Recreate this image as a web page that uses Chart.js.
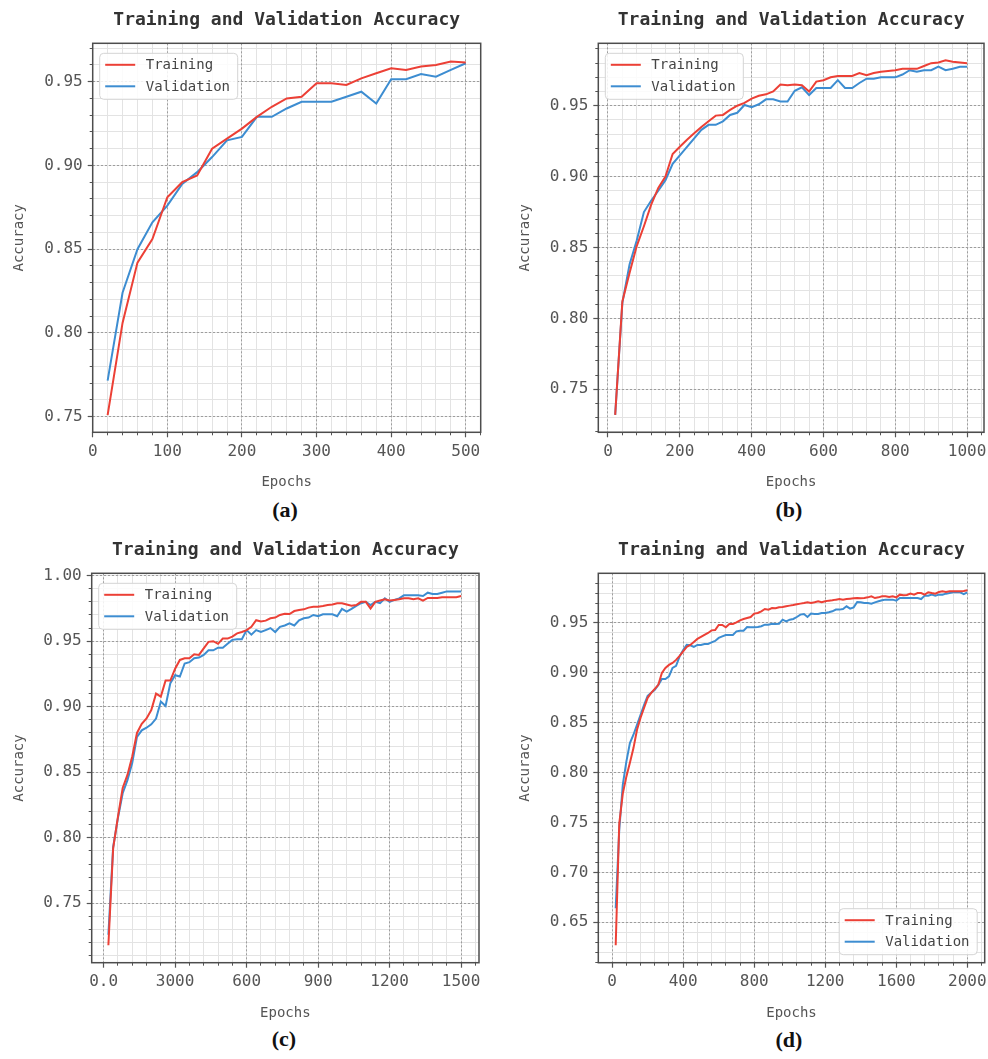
<!DOCTYPE html>
<html>
<head>
<meta charset="utf-8">
<script src="https://cdn.jsdelivr.net/npm/chart.js@4.4.1/dist/chart.umd.min.js"></script>
<style>
body { margin: 0; background: #fff; }
#fig { position: relative; width: 988px; height: 1059px; }
canvas { position: absolute; }
.tag { position: absolute; width: 80px; text-align: center; font: bold 22px "Liberation Serif", serif; color: #111; line-height: 26px; }
</style>
</head>
<body>
<div id="fig">
  <canvas id="chart_a" width="494" height="494" style="left:0;top:0"></canvas>
  <canvas id="chart_b" width="494" height="494" style="left:494px;top:0"></canvas>
  <canvas id="chart_c" width="494" height="494" style="left:0;top:530px"></canvas>
  <canvas id="chart_d" width="494" height="494" style="left:494px;top:530px"></canvas>
  <div class="tag" id="tag_a" style="left:245px;top:497px"></div>
  <div class="tag" id="tag_b" style="left:749px;top:497px"></div>
  <div class="tag" id="tag_c" style="left:244px;top:1026px"></div>
  <div class="tag" id="tag_d" style="left:749px;top:1027px"></div>
</div>
<script>
const chartTitle = "Training and Validation Accuracy"
const seriesNames = ["Training", "Validation"]
const panelTags = ["(a)", "(b)", "(c)", "(d)"]

const epochs = [
    20, 40, 60, 80, 100, 120, 140, 160, 180, 200,
    220, 240, 260, 280, 300, 320, 340, 360, 380, 400,
    420, 440, 460, 480, 500, 520, 540, 560, 580, 600,
    620, 640, 660, 680, 700, 720, 740, 760, 780, 800,
    820, 840, 860, 880, 900, 920, 940, 960, 980, 1000,
    1020, 1040, 1060, 1080, 1100, 1120, 1140, 1160, 1180, 1200,
    1220, 1240, 1260, 1280, 1300, 1320, 1340, 1360, 1380, 1400,
    1420, 1440, 1460, 1480, 1500, 1520, 1540, 1560, 1580, 1600,
    1620, 1640, 1660, 1680, 1700, 1720, 1740, 1760, 1780, 1800,
    1820, 1840, 1860, 1880, 1900, 1920, 1940, 1960, 1980, 2000
]

// (a) 500 epochs
const trainA = [0.751, 0.806, 0.842, 0.856, 0.881, 0.890, 0.894, 0.910, 0.916, 0.922,
    0.929, 0.935, 0.940, 0.941, 0.949, 0.949, 0.948, 0.952, 0.955, 0.958,
    0.957, 0.959, 0.960, 0.962, 0.9615]
const valA = [0.7715, 0.824, 0.850, 0.866, 0.876, 0.889, 0.896, 0.905, 0.915, 0.917,
    0.929, 0.929, 0.934, 0.938, 0.938, 0.938, 0.941, 0.944, 0.937, 0.9515,
    0.9515, 0.9545, 0.953, 0.957, 0.961]

// (b) 1000 epochs
const trainB = [0.732, 0.812, 0.832, 0.851, 0.865, 0.880, 0.892, 0.900, 0.916, 0.921,
    0.926, 0.9305, 0.935, 0.939, 0.943, 0.9435, 0.947, 0.950, 0.952, 0.955,
    0.957, 0.958, 0.960, 0.965, 0.9645, 0.965, 0.9645, 0.960, 0.967, 0.968,
    0.970, 0.971, 0.971, 0.971, 0.973, 0.9715, 0.973, 0.974, 0.9745, 0.975,
    0.976, 0.976, 0.976, 0.978, 0.980, 0.9805, 0.982, 0.981, 0.9805, 0.980]
const valB = [0.732, 0.811, 0.838, 0.855, 0.875, 0.883, 0.890, 0.8975, 0.909, 0.915,
    0.921, 0.927, 0.933, 0.9365, 0.9365, 0.939, 0.9435, 0.945, 0.9505, 0.949,
    0.951, 0.9545, 0.9545, 0.953, 0.953, 0.9605, 0.963, 0.9575, 0.9625, 0.9625,
    0.9625, 0.968, 0.9625, 0.9625, 0.966, 0.969, 0.969, 0.970, 0.970, 0.970,
    0.972, 0.975, 0.974, 0.975, 0.975, 0.9775, 0.975, 0.976, 0.9775, 0.9775]

// (c) 1500 epochs
const trainC = [0.718, 0.792, 0.816, 0.838, 0.848, 0.862, 0.880, 0.887, 0.891, 0.8975,
    0.910, 0.9077, 0.920, 0.920, 0.929, 0.9357, 0.937, 0.937, 0.940, 0.9395,
    0.9445, 0.9495, 0.950, 0.948, 0.952, 0.952, 0.9535, 0.956, 0.957, 0.9585,
    0.961, 0.966, 0.965, 0.9657, 0.9675, 0.968, 0.970, 0.971, 0.9707, 0.973,
    0.9738, 0.9743, 0.9756, 0.9763, 0.9763, 0.9768, 0.9776, 0.978, 0.979, 0.979,
    0.978, 0.977, 0.9776, 0.980, 0.980, 0.975, 0.980, 0.981, 0.982, 0.981,
    0.9815, 0.982, 0.9827, 0.9827, 0.982, 0.9827, 0.981, 0.983, 0.983, 0.983,
    0.9835, 0.9835, 0.9835, 0.9835, 0.9845]
const valC = [0.726, 0.793, 0.815, 0.834, 0.844, 0.857, 0.877, 0.882, 0.884, 0.8866,
    0.891, 0.904, 0.9006, 0.918, 0.924, 0.923, 0.933, 0.934, 0.937, 0.9375,
    0.9395, 0.943, 0.943, 0.945, 0.945, 0.948, 0.951, 0.9515, 0.9515, 0.9585,
    0.955, 0.9585, 0.957, 0.9585, 0.960, 0.957, 0.961, 0.962, 0.9636, 0.962,
    0.966, 0.9675, 0.968, 0.970, 0.969, 0.9705, 0.9705, 0.9705, 0.969, 0.9746,
    0.9725, 0.9746, 0.977, 0.979, 0.980, 0.9776, 0.980, 0.979, 0.9827, 0.980,
    0.9815, 0.9827, 0.985, 0.985, 0.985, 0.985, 0.9845, 0.987, 0.986, 0.986,
    0.987, 0.988, 0.988, 0.988, 0.988]

// (d) 2000 epochs
const trainD = [0.627, 0.749, 0.779, 0.796, 0.810, 0.8246, 0.843, 0.855, 0.865, 0.875,
    0.880, 0.884, 0.888, 0.900, 0.905, 0.908, 0.910, 0.913, 0.917, 0.9216,
    0.926, 0.928, 0.931, 0.934, 0.936, 0.938, 0.940, 0.9426, 0.943, 0.948,
    0.948, 0.9457, 0.949, 0.949, 0.9507, 0.9527, 0.954, 0.955, 0.956, 0.9594,
    0.960, 0.9617, 0.964, 0.9634, 0.965, 0.9647, 0.9657, 0.966, 0.9667, 0.9674,
    0.968, 0.9687, 0.9694, 0.970, 0.9707, 0.970, 0.9707, 0.9717, 0.9707, 0.9717,
    0.9724, 0.9727, 0.9734, 0.974, 0.9734, 0.974, 0.9744, 0.9747, 0.975, 0.9747,
    0.975, 0.9757, 0.9767, 0.975, 0.9757, 0.9767, 0.9767, 0.976, 0.9767, 0.9757,
    0.9784, 0.9778, 0.978, 0.9794, 0.9784, 0.980, 0.980, 0.9784, 0.9808, 0.980,
    0.9794, 0.981, 0.9818, 0.981, 0.9818, 0.9818, 0.9818, 0.9818, 0.982, 0.9828]
const valD = [0.664, 0.7426, 0.788, 0.811, 0.8296, 0.838, 0.848, 0.858, 0.868, 0.877,
    0.880, 0.883, 0.888, 0.8938, 0.8938, 0.8965, 0.905, 0.907, 0.9166, 0.923,
    0.928, 0.9276, 0.926, 0.928, 0.928, 0.929, 0.929, 0.9306, 0.932, 0.935,
    0.9366, 0.938, 0.938, 0.938, 0.9416, 0.9423, 0.9423, 0.946, 0.9457, 0.9457,
    0.946, 0.9467, 0.9483, 0.9483, 0.9493, 0.949, 0.9493, 0.9533, 0.9517, 0.9533,
    0.954, 0.956, 0.9584, 0.959, 0.956, 0.9594, 0.959, 0.959, 0.960, 0.960,
    0.9607, 0.9617, 0.9634, 0.9634, 0.964, 0.9667, 0.9644, 0.9657, 0.971, 0.9707,
    0.970, 0.970, 0.9694, 0.9707, 0.9717, 0.9727, 0.9734, 0.9734, 0.9734, 0.9724,
    0.975, 0.975, 0.975, 0.975, 0.975, 0.975, 0.974, 0.9774, 0.9774, 0.9784,
    0.9774, 0.9784, 0.9784, 0.9794, 0.980, 0.9807, 0.9807, 0.9807, 0.979, 0.9807]

const xTicksA = [0, 100, 200, 300, 400, 500]
const xTicksB = [0, 200, 400, 600, 800, 1000]
const xTicksC = [0, 300, 600, 900, 1200, 1500]
const xLabelsC = ["0.0", "3000", "600", "900", "1200", "1500"]
const xTicksD = [0, 400, 800, 1200, 1600, 2000]
const yTicksAB = [0.75, 0.80, 0.85, 0.90, 0.95]
const yTicksC = [0.75, 0.80, 0.85, 0.90, 0.95, 1.00]
const yTicksD = [0.65, 0.70, 0.75, 0.80, 0.85, 0.90, 0.95]

const RED = "#ec4036"
const BLUE = "#3d8dd1"
const MONO = "'DejaVu Sans Mono', monospace"

let panels = [
    {id: "chart_a", tag: "tag_a", train: trainA, val: valA, xTicks: xTicksA, xLabels: null, yTicks: yTicksAB,
     x: [0, 520], y: [0.7407, 0.9729], xMinor: 20,
     area: {left: 92.7, right: 480.7, top: 43.3, bottom: 432.3}, yTitleX: 19, xTitleY: 482, legend: "tl"},
    {id: "chart_b", tag: "tag_b", train: trainB, val: valB, xTicks: xTicksB, xLabels: null, yTicks: yTicksAB,
     x: [-27, 1047], y: [0.7197, 0.9940], xMinor: 40,
     area: {left: 104.3, right: 490, top: 43.3, bottom: 432.3}, yTitleX: 31.7, xTitleY: 482, legend: "tl"},
    {id: "chart_c", tag: "tag_c", train: trainC, val: valC, xTicks: xTicksC, xLabels: xLabelsC, yTicks: yTicksC,
     x: [-50, 1575], y: [0.7047, 1.0018], xMinor: 60,
     area: {left: 91.7, right: 479, top: 43.3, bottom: 432.7}, yTitleX: 19, xTitleY: 483, legend: "tl"},
    {id: "chart_d", tag: "tag_d", train: trainD, val: valD, xTicks: xTicksD, xLabels: null, yTicks: yTicksD,
     x: [-78, 2098], y: [0.6095, 0.9998], xMinor: 80,
     area: {left: 104.3, right: 490.7, top: 43.3, bottom: 432.7}, yTitleX: 31.7, xTitleY: 483, legend: "br"}
]

function steps(lo, hi, step){
    let out = []
    let start = Math.ceil(lo / step - 1e-9)
    for(let k = start; k * step <= hi + 1e-9; k++){
        out.push(Math.round(k * step * 1e6) / 1e6)
    }
    return out
}

function points(xs, ys){
    return ys.map((v, i) => ({x: xs[i], y: v}))
}

function fixWidth(w){
    return (scale) => {
        scale.width = w
        scale.paddingTop = scale.paddingBottom = scale.paddingLeft = scale.paddingRight = 0
    }
}
function fixHeight(h){
    return (scale) => {
        scale.height = h
        scale.paddingTop = scale.paddingBottom = scale.paddingLeft = scale.paddingRight = 0
    }
}
function setTicks(values){
    return (scale) => { scale.ticks = values.map(v => ({value: v})) }
}

// title, box frame and legend drawn over the plot area
const decorations = {
    id: "decorations",
    afterDraw(chart, args, opts){
        const ctx = chart.ctx
        const a = chart.chartArea
        ctx.save()
        ctx.font = "bold 18px " + MONO
        ctx.fillStyle = "#333"
        ctx.textAlign = "center"
        ctx.textBaseline = "middle"
        ctx.fillText(chartTitle, (a.left + a.right) / 2, 20)

        ctx.strokeStyle = "#4d4d4d"
        ctx.lineWidth = 1.5
        ctx.strokeRect(a.left, a.top, a.right - a.left, a.bottom - a.top)

        let w = 138, h = 46
        let bx, by
        if(opts.corner == "br"){
            bx = a.right - 7.5 - w
            by = a.bottom - 8 - h
        } else {
            bx = a.left + 7
            by = a.top + 10
        }
        ctx.beginPath()
        ctx.roundRect(bx, by, w, h, 4)
        ctx.fillStyle = "rgba(255,255,255,0.85)"
        ctx.fill()
        ctx.strokeStyle = "#d4d4d4"
        ctx.lineWidth = 1
        ctx.stroke()

        ctx.font = "14px " + MONO
        ctx.textAlign = "left"
        chart.data.datasets.forEach((ds, i) => {
            let ry = by + 11.5 + i * 21.5
            ctx.strokeStyle = ds.borderColor
            ctx.lineWidth = 2
            ctx.beginPath()
            ctx.moveTo(bx + 5.5, ry)
            ctx.lineTo(bx + 35.5, ry)
            ctx.stroke()
            ctx.fillStyle = "#444"
            ctx.fillText(ds.label, bx + 46, ry + 1)
        })
        ctx.restore()
    }
}

function make_chart(p, tagText){
    const canvas = document.getElementById(p.id)
    const W = canvas.width, H = canvas.height
    const minorLine = {color: "#e3e3e3", lineWidth: 1, tickLength: 3, tickColor: "#555", tickWidth: 1}
    const config = {
        type: "line",
        data: {
            datasets: [
                {label: seriesNames[0], data: points(epochs, p.train), borderColor: RED, borderWidth: 2},
                {label: seriesNames[1], data: points(epochs, p.val), borderColor: BLUE, borderWidth: 2}
            ]
        },
        options: {
            responsive: false,
            animation: false,
            devicePixelRatio: 1,
            elements: {point: {radius: 0}, line: {tension: 0}},
            layout: {padding: {left: 0, top: p.area.top, right: W - p.area.right, bottom: 0}},
            plugins: {
                legend: {display: false},
                tooltip: {enabled: false},
                decorations: {corner: p.legend}
            },
            scales: {
                xMinor: {
                    type: "linear", axis: "x", position: "bottom", min: p.x[0], max: p.x[1],
                    afterBuildTicks: setTicks(steps(p.x[0], p.x[1], p.xMinor)),
                    afterFit: fixHeight(0),
                    ticks: {display: false},
                    grid: minorLine,
                    border: {display: false}
                },
                yMinor: {
                    type: "linear", axis: "y", position: "left", min: p.y[0], max: p.y[1],
                    afterBuildTicks: setTicks(steps(p.y[0], p.y[1], 0.01)),
                    afterFit: fixWidth(0),
                    ticks: {display: false},
                    grid: minorLine,
                    border: {display: false}
                },
                x: {
                    type: "linear", position: "bottom", min: p.x[0], max: p.x[1],
                    afterBuildTicks: setTicks(p.xTicks),
                    afterFit: fixHeight(H - p.area.bottom),
                    ticks: {
                        font: {family: MONO, size: 16}, color: "#555", padding: 5, maxRotation: 0,
                        callback: (v, i) => p.xLabels ? p.xLabels[i] : String(v)
                    },
                    grid: {color: "#9d9d9d", lineWidth: 1, tickLength: 5, tickColor: "#555", tickWidth: 1.2},
                    border: {display: false, dash: [2, 2]},
                    title: {display: true, text: "Epochs", color: "#555", font: {family: MONO, size: 14},
                            padding: {top: 0, bottom: H - 8.4 - p.xTitleY}}
                },
                y: {
                    type: "linear", position: "left", min: p.y[0], max: p.y[1],
                    afterBuildTicks: setTicks(p.yTicks),
                    afterFit: fixWidth(p.area.left),
                    ticks: {
                        font: {family: MONO, size: 16}, color: "#555", padding: 5,
                        callback: (v) => v.toFixed(2)
                    },
                    grid: {color: "#9d9d9d", lineWidth: 1, tickLength: 5, tickColor: "#555", tickWidth: 1.2},
                    border: {display: false, dash: [2, 2]},
                    title: {display: true, text: "Accuracy", color: "#555", font: {family: MONO, size: 14},
                            padding: {top: p.yTitleX - 8.4, bottom: 0}}
                }
            }
        },
        plugins: [decorations]
    }
    document.getElementById(p.tag).textContent = tagText
    return new Chart(canvas.getContext("2d"), config)
}

let charts = []
panels.forEach((p, i) => {
    charts.push(make_chart(p, panelTags[i]))
})
</script>
</body>
</html>
